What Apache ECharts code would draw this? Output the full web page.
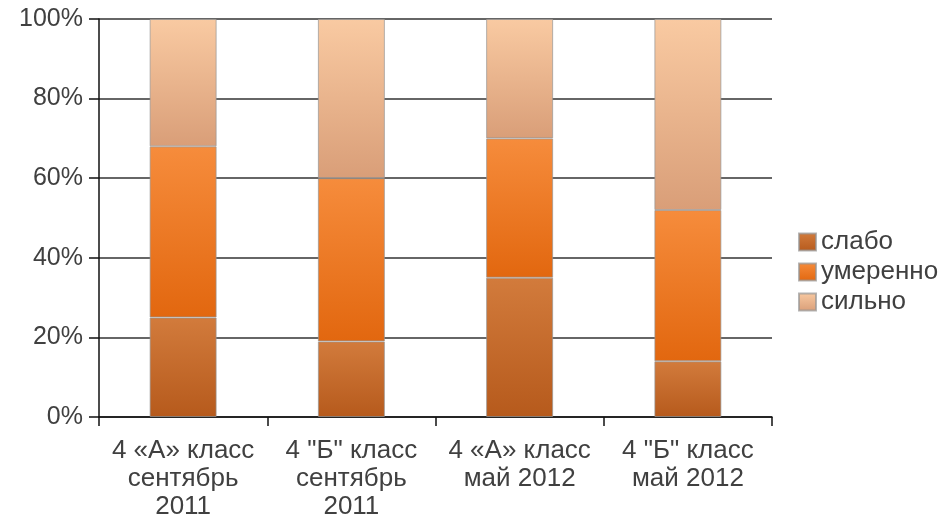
<!DOCTYPE html>
<html>
<head>
<meta charset="utf-8">
<script src="https://cdn.jsdelivr.net/npm/echarts@6/dist/echarts.min.js"></script>
<style>html,body{margin:0;padding:0;background:#fff}#c{width:946px;height:518px}</style>
</head>
<body>
<div id="c"></div>
<script>
const categories = ['4 «А» класс\nсентябрь\n2011', '4 "Б" класс\nсентябрь\n2011', '4 «А» класс\nмай 2012', '4 "Б" класс\nмай 2012'];
const slabo = [25, 19, 35, 14];
const umerenno = [43, 41, 35, 38];
const silno = [32, 40, 30, 48];
const yTicks = [0, 20, 40, 60, 80, 100];

function grad(top, bottom) {
  return new echarts.graphic.LinearGradient(0, 0, 0, 1, [
    {offset: 0, color: top}, {offset: 1, color: bottom}
  ]);
}
const font = 'Liberation Sans, Arial, sans-serif';
const chart = echarts.init(document.getElementById('c'));
chart.setOption({
  animation: false,
  backgroundColor: '#fff',
  grid: {left: 99, right: 174, top: 19, bottom: 101, containLabel: false, outerBoundsMode: 'none'},
  legend: {
    orient: 'vertical', left: 798, top: 229, padding: 0,
    itemWidth: 17, itemHeight: 17, itemGap: 4,
    icon: 'rect',
    textStyle: {fontFamily: font, fontSize: 26, lineHeight: 26, color: '#404040'},
    data: ['слабо', 'умеренно', 'сильно']
  },
  xAxis: {
    type: 'category', data: categories,
    axisLine: {lineStyle: {color: '#111', width: 1.5}},
    axisTick: {show: true, length: 9, lineStyle: {color: '#111', width: 1.5}},
    axisLabel: {fontFamily: font, fontSize: 26, color: '#404040', lineHeight: 28, margin: 20, interval: 0}
  },
  yAxis: {
    type: 'value', min: yTicks[0], max: yTicks[yTicks.length - 1], interval: 20,
    axisLine: {show: true, lineStyle: {color: '#111', width: 1.5}},
    axisTick: {show: true, length: 10, lineStyle: {color: '#111', width: 1.5}},
    axisLabel: {formatter: '{value}%', fontFamily: font, fontSize: 25, color: '#404040', margin: 16},
    splitLine: {lineStyle: {color: '#333', width: 1.5}}
  },
  series: [
    {name: 'слабо', type: 'bar', stack: 't', data: slabo, barWidth: 67,
     itemStyle: {color: grad('#d27b3c', '#b65a1c'), borderColor: 'rgba(150,150,150,0.7)', borderWidth: 1}},
    {name: 'умеренно', type: 'bar', stack: 't', data: umerenno, barWidth: 67,
     itemStyle: {color: grad('#f68c3c', '#e2670f'), borderColor: 'rgba(150,150,150,0.7)', borderWidth: 1}},
    {name: 'сильно', type: 'bar', stack: 't', data: silno, barWidth: 67,
     itemStyle: {color: grad('#f9caa2', '#d99e78'), borderColor: 'rgba(150,150,150,0.7)', borderWidth: 1}}
  ]
});
</script>
</body>
</html>
